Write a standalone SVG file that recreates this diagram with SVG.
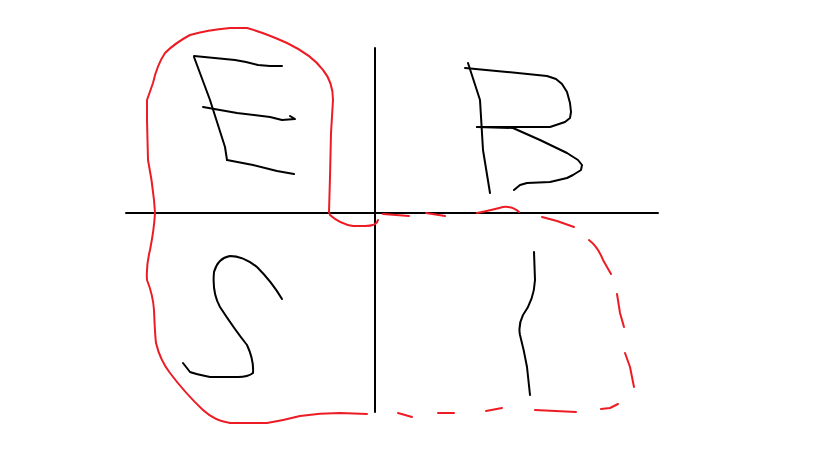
<svg xmlns="http://www.w3.org/2000/svg" width="819" height="460" viewBox="0 0 819 460">
<style>
.k{fill:none;stroke:#000;stroke-width:2;stroke-linejoin:round;stroke-linecap:round}
.r{fill:none;stroke:#ed1c24;stroke-width:2;stroke-linejoin:round;stroke-linecap:round}
</style>
<rect width="819" height="460" fill="#fff"/>
<g id="axes">
<line class="k" x1="126" y1="213" x2="658" y2="213"/>
<line class="k" x1="375" y1="48" x2="375" y2="412"/>
</g>
<g id="letter-E">
<polyline class="k" points="194,56 235,60 246,62 258,65 270,66 282,66"/>
<polyline class="k" points="194,57 210,100 225,147 227,160"/>
<polyline class="k" points="203,107 237,113 270,117 282,120 295,119 290,116"/>
<polyline class="k" points="227,160 253,165 277,171 294,174"/>
</g>
<g id="letter-B">
<polyline class="k" points="468,63 480,100 483,150 490,193"/>
<polyline class="k" points="465,68 507,72 547,76 556,79 562,84 567,92 570,103 571,112 570,118 565,122 550,127 477,127"/>
<polyline class="k" points="477,127 513,128 540,140 567,153 578,160 582,165 581,170 573,175 567,178 550,182 527,183 520,185 514,190"/>
</g>
<g id="letter-S">
<path class="k" d="M282,299 Q272,282 257,267 Q243,256 230,256 Q218,258 214,272 Q212,293 220,307 Q235,330 247,345 Q254,360 253,373 Q248,377 238,377 L210,377 Q195,374 190,372 L183,363"/>
</g>
<g id="letter-I">
<path class="k" d="M534,252 L535,280 Q534,300 523,315 Q518,325 520,335 Q524,350 527,367 L530,395"/>
</g>
<g id="red-outline">
<path class="r" d="M378,220 Q377,226 365,226 L353,226 Q340,224 330,215 L329,212 L330,177 L331,133 L333,100 Q333,82 323,70 Q312,55 287,43 Q265,33 247,28 L230,28 Q207,30 190,35 Q175,43 165,53 Q157,65 153,83 L147,100 L147,120 L148,160 Q152,180 154,200 L155,213 Q154,230 150,250 Q146,266 147,280 Q153,295 154,310 Q155,335 156,343 Q160,360 170,373 Q185,393 203,410 Q215,421 230,423 L267,423 Q285,420 300,416 Q320,413 340,413 L367,414"/>
</g>
<g id="red-dashed">
<polyline class="r" points="383,214 409,216"/>
<polyline class="r" points="426,213 445,216"/>
<path class="r" d="M477,213 Q492,210 503,207 Q513,206 519,212"/>
<polyline class="r" points="542,217 557,221 574,227"/>
<path class="r" d="M589,240 Q598,247 603,260 L611,274"/>
<polyline class="r" points="617,294 620,313 624,327"/>
<polyline class="r" points="625,353 630,367 634,387"/>
<polyline class="r" points="618,404 610,408 601,409"/>
<polyline class="r" points="535,410 576,412"/>
<polyline class="r" points="486,411 502,408"/>
<polyline class="r" points="438,413 454,413"/>
<polyline class="r" points="398,413 412,417"/>
</g>
</svg>
